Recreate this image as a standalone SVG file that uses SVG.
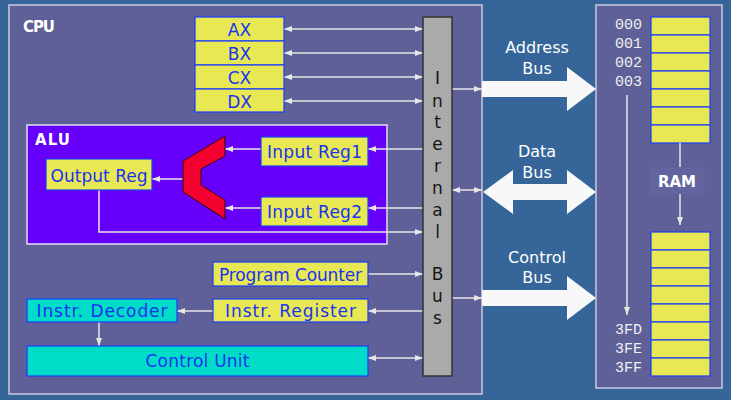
<svg xmlns="http://www.w3.org/2000/svg" width="731" height="400" viewBox="0 0 731 400">
<defs>
<style>
.panel{fill:#5f6097;stroke:#c9c9e0;stroke-width:1.5}
.alu{fill:#6600fa;stroke:#e0e0f0;stroke-width:1.5}
.reg{fill:#e8e854;stroke:#1a3cff;stroke-width:1.2}
.cyan{fill:#00dcc8;stroke:#1a3cff;stroke-width:1.2}
.lbl{font-family:"DejaVu Sans","Liberation Sans",sans-serif;font-size:17px;fill:#1a33ee;text-anchor:middle}
.wl{font-family:"DejaVu Sans","Liberation Sans",sans-serif;font-size:16px;fill:#ffffff;text-anchor:middle}
.wb{font-family:"DejaVu Sans","Liberation Sans",sans-serif;font-size:15px;font-weight:bold;fill:#ffffff}
.busl{font-family:"DejaVu Sans","Liberation Sans",sans-serif;font-size:17px;fill:#151515;text-anchor:middle}
.mono{font-family:"Liberation Mono","DejaVu Sans Mono",monospace;font-size:15px;fill:#f0f0f0}
.conn{stroke:#e6e6e6;stroke-width:1.5;fill:none}
.big{fill:#f8f8f8}
</style>
<marker id="ah" viewBox="0 0 8 6" refX="8" refY="3" markerWidth="8" markerHeight="6" orient="auto-start-reverse" markerUnits="userSpaceOnUse">
<path d="M0,0 L8,3 L0,6 z" fill="#e6e6e6"/>
</marker>
</defs>
<rect x="0" y="0" width="731" height="400" fill="#366699"/>

<g id="cpu">
<rect class="panel" x="9" y="5" width="473" height="389"/>
<text class="wb" x="23" y="32" textLength="32">CPU</text>
</g>

<g id="ram">
<rect class="panel" x="596" y="5" width="126" height="383"/>
<rect class="reg" x="651" y="17" width="59" height="18"/>
<rect class="reg" x="651" y="35" width="59" height="18"/>
<rect class="reg" x="651" y="53" width="59" height="18"/>
<rect class="reg" x="651" y="71" width="59" height="18"/>
<rect class="reg" x="651" y="89" width="59" height="18"/>
<rect class="reg" x="651" y="107" width="59" height="18"/>
<rect class="reg" x="651" y="125" width="59" height="18"/>
<rect class="reg" x="651" y="232" width="59" height="18"/>
<rect class="reg" x="651" y="250" width="59" height="18"/>
<rect class="reg" x="651" y="268" width="59" height="18"/>
<rect class="reg" x="651" y="286" width="59" height="18"/>
<rect class="reg" x="651" y="304" width="59" height="18"/>
<rect class="reg" x="651" y="322" width="59" height="18"/>
<rect class="reg" x="651" y="340" width="59" height="18"/>
<rect class="reg" x="651" y="358" width="59" height="18"/>
<text class="mono" x="615" y="29">000</text>
<text class="mono" x="615" y="48">001</text>
<text class="mono" x="615" y="67">002</text>
<text class="mono" x="615" y="86">003</text>
<text class="mono" x="615" y="334">3FD</text>
<text class="mono" x="615" y="353">3FE</text>
<text class="mono" x="615" y="372">3FF</text>
</g>

<g id="address-bus">
<polygon class="big" points="482,81 567,81 567,67 596,89 567,111 567,97 482,97"/>
<text class="wl" x="537" y="53">Address</text>
<text class="wl" x="537" y="74">Bus</text>
</g>
<g id="data-bus">
<polygon class="big" points="483,192 513,170 513,184 567,184 567,170 596,192 567,214 567,200 513,200 513,214"/>
<text class="wl" x="537" y="157">Data</text>
<text class="wl" x="537" y="178">Bus</text>
</g>
<g id="control-bus">
<polygon class="big" points="482,290 567,290 567,276 596,298 567,320 567,306 482,306"/>
<text class="wl" x="537" y="263">Control</text>
<text class="wl" x="537" y="283">Bus</text>
</g>

<g id="alu">
<rect class="alu" x="27" y="125" width="360" height="119"/>
<text class="wb" x="35" y="145" textLength="35">ALU</text>
</g>

<g id="connectors">
<path class="conn" d="M284,29 H423" marker-start="url(#ah)" marker-end="url(#ah)"/>
<path class="conn" d="M284,53 H423" marker-start="url(#ah)" marker-end="url(#ah)"/>
<path class="conn" d="M284,77 H423" marker-start="url(#ah)" marker-end="url(#ah)"/>
<path class="conn" d="M284,101 H423" marker-start="url(#ah)" marker-end="url(#ah)"/>
<path class="conn" d="M423,149 H368" marker-end="url(#ah)"/>
<path class="conn" d="M261,149 H225" marker-end="url(#ah)"/>
<path class="conn" d="M423,208 H368" marker-end="url(#ah)"/>
<path class="conn" d="M261,208 H225" marker-end="url(#ah)"/>
<path class="conn" d="M183,179 H152" marker-end="url(#ah)"/>
<path class="conn" d="M99,190 V232 H423" marker-end="url(#ah)"/>
<path class="conn" d="M452,89 H482" marker-end="url(#ah)"/>
<path class="conn" d="M452,190 H482" marker-start="url(#ah)" marker-end="url(#ah)"/>
<path class="conn" d="M452,298 H482" marker-end="url(#ah)"/>
<path class="conn" d="M368,274 H423" marker-end="url(#ah)"/>
<path class="conn" d="M423,311 H368" marker-end="url(#ah)"/>
<path class="conn" d="M213,311 H177" marker-end="url(#ah)"/>
<path class="conn" d="M99,322 V346" marker-end="url(#ah)"/>
<path class="conn" d="M368,358 H423" marker-start="url(#ah)" marker-end="url(#ah)"/>
<path class="conn" d="M627,95 V315" marker-end="url(#ah)"/>
<path class="conn" d="M680,143 V225" marker-end="url(#ah)"/>
</g>

<g id="ram-label">
<rect x="650" y="167" width="55" height="27" fill="#6363a0"/>
<text class="wb" x="677" y="187" text-anchor="middle" font-size="16">RAM</text>
</g>

<g id="internal-bus">
<rect x="423" y="17" width="29" height="359" fill="#aaaaaa" stroke="#333333" stroke-width="1.5"/>
<text class="busl" x="437.5" y="84">I</text>
<text class="busl" x="437.5" y="107">n</text>
<text class="busl" x="437.5" y="128">t</text>
<text class="busl" x="437.5" y="150">e</text>
<text class="busl" x="437.5" y="172">r</text>
<text class="busl" x="437.5" y="194">n</text>
<text class="busl" x="437.5" y="216">a</text>
<text class="busl" x="437.5" y="238">l</text>
<text class="busl" x="437.5" y="280">B</text>
<text class="busl" x="437.5" y="302">u</text>
<text class="busl" x="437.5" y="324">s</text>
</g>

<g id="ax"><rect class="reg" x="195" y="17" width="89" height="24"/><text class="lbl" x="239.5" y="36">AX</text></g>
<g id="bx"><rect class="reg" x="195" y="41" width="89" height="24"/><text class="lbl" x="239.5" y="60">BX</text></g>
<g id="cx"><rect class="reg" x="195" y="65" width="89" height="24"/><text class="lbl" x="239.5" y="84">CX</text></g>
<g id="dx"><rect class="reg" x="195" y="89" width="89" height="23"/><text class="lbl" x="239.5" y="108">DX</text></g>

<g id="input-reg1"><rect class="reg" x="261" y="137" width="107" height="29"/><text class="lbl" x="314.5" y="158" textLength="95">Input Reg1</text></g>
<g id="input-reg2"><rect class="reg" x="261" y="197" width="107" height="29"/><text class="lbl" x="314.5" y="218" textLength="95">Input Reg2</text></g>
<g id="output-reg"><rect class="reg" x="46" y="159" width="106" height="31"/><text class="lbl" x="99" y="182" textLength="97">Output Reg</text></g>
<g id="alu-unit"><polygon points="225,136 225,156 201,169 201,185 225,200 225,219 183,192 183,161" fill="#f2002e" stroke="#300010" stroke-width="1"/></g>

<g id="program-counter"><rect class="reg" x="213" y="262" width="155" height="24"/><text class="lbl" x="290.5" y="281" textLength="143">Program Counter</text></g>
<g id="instr-register"><rect class="reg" x="213" y="299" width="155" height="23"/><text class="lbl" x="290.5" y="317" textLength="131">Instr. Register</text></g>
<g id="instr-decoder"><rect class="cyan" x="27" y="299" width="150" height="23"/><text class="lbl" x="102" y="317" textLength="131">Instr. Decoder</text></g>
<g id="control-unit"><rect class="cyan" x="27" y="346" width="341" height="30"/><text class="lbl" x="197.5" y="367" textLength="104">Control Unit</text></g>
</svg>
